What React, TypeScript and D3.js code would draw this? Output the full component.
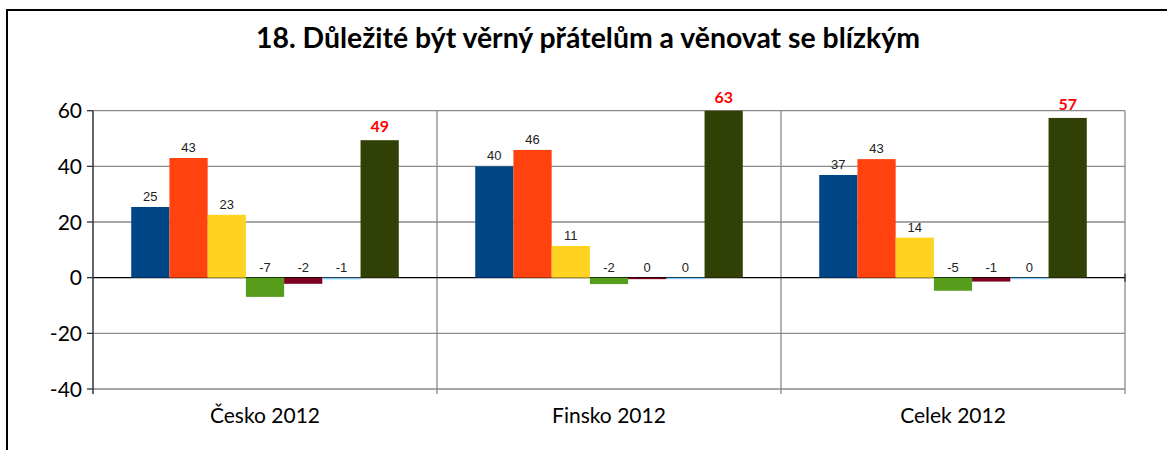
import React from "react";
import * as d3 from "d3";

const title = "18. Důležité být věrný přátelům a věnovat se blízkým";
const categories = ["Česko 2012", "Finsko 2012", "Celek 2012"];
const seriesKeys = ["s1", "s2", "s3", "s4", "s5", "s6", "s7"];
const seriesColors = ["#004586", "#ff420e", "#ffd320", "#579d1c", "#7e0021", "#83caff", "#314004"];
// values per category, series order s1..s7
const cesko = [25.4, 43, 22.6, -6.9, -2.2, -0.6, 49.4];
const finsko = [40, 45.9, 11.4, -2.3, -0.4, -0.3, 63];
const celek = [36.9, 42.6, 14.4, -4.7, -1.4, -0.3, 57.4];
const tableValues = [cesko, finsko, celek];
const yTicks = [-40, -20, 0, 20, 40, 60];

const W = 1167;
const H = 450;
const plot = { left: 93, right: 1125, top: 110.7, bottom: 389 };

const fmtNum = (v: number) => {
  const r = Math.round(v);
  return r === 0 ? "0" : String(r);
};

export default function App() {
  const y = d3.scaleLinear().domain([-40, 60]).range([plot.bottom, plot.top]);
  const x0 = d3.scaleBand<string>().domain(categories).range([plot.left, plot.right]).paddingInner(0).paddingOuter(0);
  const x1 = d3
    .scaleBand<string>()
    .domain(seriesKeys)
    .range([0, x0.bandwidth()])
    .paddingInner(0)
    .paddingOuter(1);
  const clampV = (v: number) => Math.max(-40, Math.min(60, v));
  const boundaries = categories.map((c) => (x0(c) as number) + x0.bandwidth());

  return (
    <svg width={W} height={H} style={{ position: "absolute", left: 0, top: 0, background: "#fff" }}>
      <rect x={0} y={0} width={W} height={H} fill="#fff" />
      <rect x={7} y={10} width={W + 10} height={H + 20} fill="none" stroke="#000" strokeWidth={2} />
      <text
        x={588}
        y={48}
        textAnchor="middle"
        fontFamily="Lato, 'Open Sans', sans-serif"
        fontWeight={700}
        fontSize={28.4}
        fill="#000"
      >
        {title}
      </text>

      {/* horizontal gridlines */}
      {yTicks
        .filter((t) => t !== 0)
        .map((t) => (
          <line key={"g" + t} x1={plot.left} x2={plot.right} y1={y(t)} y2={y(t)} stroke="#8a8a8a" strokeWidth={1.3} />
        ))}
      {/* vertical category boundaries */}
      {boundaries.map((bx, i) => (
        <line key={"v" + i} x1={bx} x2={bx} y1={plot.top} y2={plot.bottom + 5} stroke="#8a8a8a" strokeWidth={1.3} />
      ))}
      {/* zero line */}
      <line x1={plot.left} x2={plot.right} y1={y(0)} y2={y(0)} stroke="#000" strokeWidth={1.3} />
      <line x1={plot.right} x2={plot.right} y1={y(0) - 4} y2={y(0) + 4} stroke="#333" strokeWidth={1.3} />

      {/* bars */}
      {categories.map((c, ci) =>
        seriesKeys.map((k, si) => {
          const v = tableValues[ci][si];
          const cv = clampV(v);
          const bx = (x0(c) as number) + (x1(k) as number);
          const top = y(Math.max(0, cv));
          const bot = y(Math.min(0, cv));
          return (
            <rect
              key={c + k}
              x={bx}
              y={top}
              width={x1.bandwidth()}
              height={Math.max(1.5, bot - top)}
              fill={seriesColors[si]}
            />
          );
        })
      )}

      {/* value labels */}
      {categories.map((c, ci) =>
        seriesKeys.map((k, si) => {
          const v = tableValues[ci][si];
          const cv = clampV(v);
          const cx = (x0(c) as number) + (x1(k) as number) + x1.bandwidth() / 2;
          const top = y(Math.max(0, cv));
          const last = si === seriesKeys.length - 1;
          return last ? (
            <text
              key={"l" + c + k}
              x={cx}
              y={top - 8}
              textAnchor="middle"
              fontFamily="Lato, 'Open Sans', sans-serif"
              fontWeight={700}
              fontSize={16}
              fill="#ff0000"
            >
              {fmtNum(v)}
            </text>
          ) : (
            <text
              key={"l" + c + k}
              x={cx}
              y={top - 6}
              textAnchor="middle"
              fontFamily="'Liberation Sans', Arial, sans-serif"
              fontSize={13}
              fill="#222"
            >
              {fmtNum(v)}
            </text>
          );
        })
      )}

      {/* y axis */}
      <line x1={plot.left} x2={plot.left} y1={plot.top} y2={plot.bottom + 5} stroke="#333" strokeWidth={1.5} />
      {yTicks.map((t) => (
        <g key={"t" + t}>
          <line x1={plot.left - 6} x2={plot.left} y1={y(t)} y2={y(t)} stroke="#333" strokeWidth={1.3} />
          <text
            x={82}
            y={y(t)}
            dy="0.36em"
            textAnchor="end"
            fontFamily="Lato, 'Open Sans', sans-serif"
            fontSize={21}
            fill="#000"
          >
            {t}
          </text>
        </g>
      ))}

      {/* category labels */}
      {categories.map((c) => (
        <text
          key={"c" + c}
          x={(x0(c) as number) + x0.bandwidth() / 2}
          y={423}
          textAnchor="middle"
          fontFamily="Lato, 'Open Sans', sans-serif"
          fontSize={21}
          fill="#000"
        >
          {c}
        </text>
      ))}
    </svg>
  );
}
